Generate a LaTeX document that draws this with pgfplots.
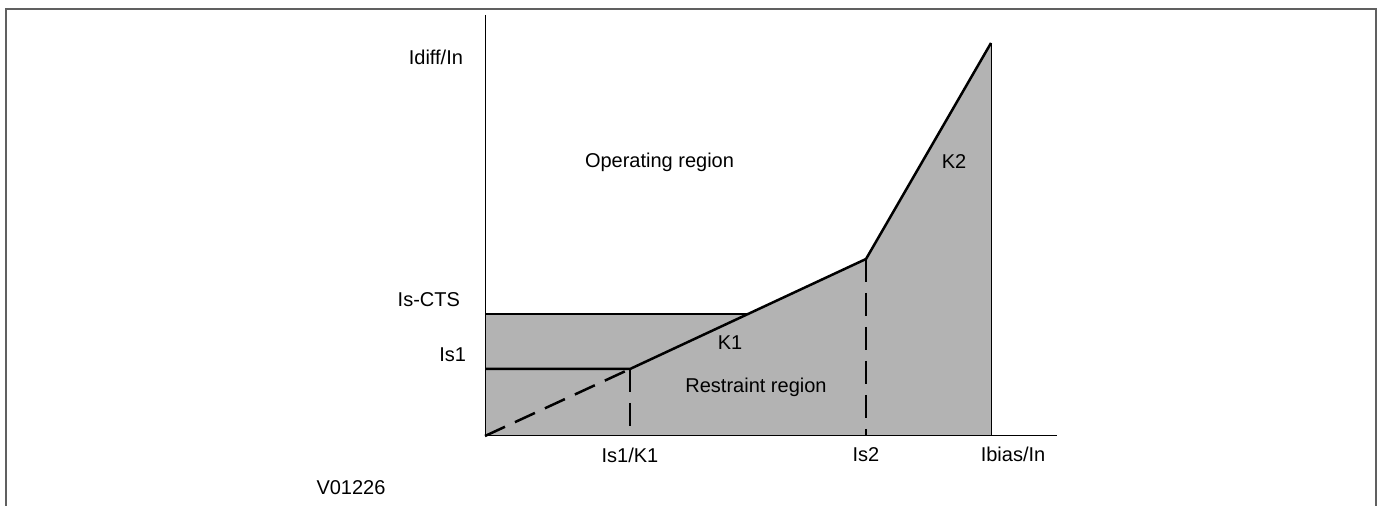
\documentclass[border=0pt]{standalone}
\usepackage{pgfplots}
\pgfplotsset{compat=1.18}
\usepackage{fontspec}
\setmainfont{Liberation Sans}

\definecolor{shade}{RGB}{179,179,179}
\definecolor{framegray}{RGB}{96,96,96}

\begin{document}
\begin{tikzpicture}
% one unit = one pixel of the reference, origin at the axes' corner
\begin{axis}[
    width=692pt, height=253pt, scale only axis,
    xmin=-485, xmax=899, ymin=-70, ymax=436,
    hide axis, clip=false,
    every node/.style={font=\fontsize{9}{11}\selectfont, inner sep=0pt},
]
% keep the whole page
\path (axis cs:-485,-70) rectangle (axis cs:899,436);

% restraint region
\addplot[fill=shade, draw=none] coordinates {
    (0,0) (0,122) (262,122) (381,177) (506,393) (506,0)} -- cycle;

% axes
\addplot[black, line width=0.5pt] coordinates {(0,421) (0,0) (572,0)};
\addplot[black, line width=0.5pt] coordinates {(506,393) (506,0)};

% characteristic
\addplot[black, line width=1.25pt] coordinates {(0,67) (145,67) (381,177) (506,393)};
\addplot[black, line width=1.25pt] coordinates {(0,122) (262,122)};

% dashed guides
\addplot[black, line width=1.25pt, dash pattern=on 11pt off 5.5pt] coordinates {(0,0) (145,67)};
\addplot[black, line width=1.25pt, dash pattern=on 11.5pt off 5.5pt] coordinates {(145,67) (145,10)};
\addplot[black, line width=1.25pt, dash pattern=on 11.5pt off 5.5pt] coordinates {(381,177) (381,0)};

% frame
\draw[framegray, line width=1pt] (axis cs:-479,-70) -- (axis cs:-479,427)
    -- (axis cs:891,427) -- (axis cs:891,-70);

% labels
\node[anchor=base east] at (axis cs:-15,371) {Idiff/In};
\node[anchor=base east] at (axis cs:-18,129) {Is-CTS};
\node[anchor=base east] at (axis cs:-12,74) {Is1};
\node[anchor=base] at (axis cs:145,-27) {Is1/K1};
\node[anchor=base] at (axis cs:381,-26) {Is2};
\node[anchor=base] at (axis cs:528,-26) {Ibias/In};
\node[anchor=base] at (axis cs:174.5,268) {Operating region};
\node[anchor=base] at (axis cs:245,86) {K1};
\node[anchor=base] at (axis cs:271,43) {Restraint region};
\node[anchor=base] at (axis cs:469,267) {K2};
\node[anchor=base] at (axis cs:-134,-59) {V01226};
\end{axis}
\end{tikzpicture}
\end{document}
